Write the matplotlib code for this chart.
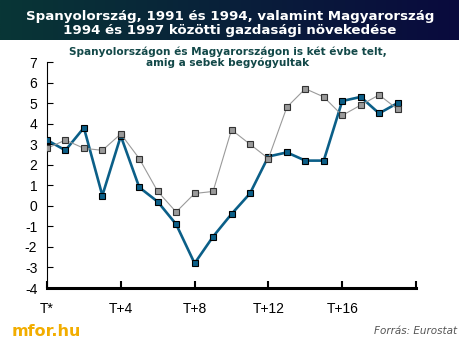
import numpy as np
import matplotlib
matplotlib.use("Agg")
import matplotlib.pyplot as plt

plt.rcParams["axes.unicode_minus"] = False

W, H = 460, 340

# quarters after T (index 0 = T*)
periods = list(range(20))
blue_vals = [3.2, 2.7, 3.8, 0.5, 3.4, 0.9, 0.2, -0.9, -2.8, -1.5,
             -0.4, 0.6, 2.4, 2.6, 2.2, 2.2, 5.1, 5.3, 4.5, 5.0]
grey_vals = [2.8, 3.2, 2.8, 2.7, 3.5, 2.3, 0.7, -0.3, 0.6, 0.7,
             3.7, 3.0, 2.3, 4.8, 5.7, 5.3, 4.4, 4.9, 5.4, 4.7]
xtick_pos = [0, 4, 8, 12, 16, 20]
xtick_labels = ["T*", "T+4", "T+8", "T+12", "T+16", ""]
yticks = list(range(-4, 8))

title = "Spanyolország, 1991 és 1994, valamint Magyarország\n1994 és 1997 közötti gazdasági növekedése"
subtitle = "Spanyolországon és Magyarországon is két évbe telt,\namig a sebek begyógyultak"

fig = plt.figure(figsize=(W / 100, H / 100), dpi=100)
fig.patch.set_facecolor("white")

# header bar with gradient
hdr = fig.add_axes([0, 1 - 40 / H, 1, 40 / H])
c1 = np.array([8, 54, 54]) / 255
c2 = np.array([10, 10, 62]) / 255
t = np.linspace(0, 1, 256)[None, :, None]
grad = c1 * (1 - t) + c2 * t
hdr.imshow(grad, aspect="auto", extent=[0, 1, 0, 1])
hdr.set_axis_off()
hdr.text(0.5, 0.42, title, color="white", fontsize=9.6, fontweight="bold",
         ha="center", va="center", linespacing=1.1, family="DejaVu Sans")

fig.text(228 / W, 1 - 57 / H, subtitle, color="#124848", fontsize=7.6,
         fontweight="bold", ha="center", va="center", linespacing=1.0,
         family="DejaVu Sans")

ax = fig.add_axes([47 / W, 1 - 288 / H, (416 - 47) / W, (288 - 62) / H])
ax.set_facecolor("none")
ax.plot(periods, blue_vals, color="#0b5f88", lw=1.9, marker="s", ms=5,
        mfc="#0b5f88", mec="black", mew=0.8, zorder=3)
ax.plot(periods, grey_vals, color="#9a9a9a", lw=0.8, marker="s", ms=5,
        mfc="#9a9a9a", mec="#333333", mew=0.8, zorder=4)

ax.set_xlim(0, 20)
ax.set_ylim(-4, 7)
ax.set_xticks(xtick_pos)
ax.set_xticklabels(xtick_labels)
ax.set_yticks(yticks)
for s in ["top", "right"]:
    ax.spines[s].set_visible(False)
ax.spines["left"].set_linewidth(0.8)
ax.spines["bottom"].set_linewidth(2.2)
ax.tick_params(axis="x", direction="in", length=5, width=1.5, pad=10)
ax.tick_params(axis="y", direction="in", length=4, width=0.8, pad=7)
for lab in ax.get_xticklabels() + ax.get_yticklabels():
    lab.set_family("Liberation Sans")
    lab.set_fontsize(10)

fig.text(12 / W, 1 - 331 / H, "mfor.hu", color="#f2ad00", fontsize=11.5,
         fontweight="bold", ha="left", va="center", family="DejaVu Sans")
fig.text(457 / W, 1 - 331 / H, "Forrás: Eurostat", color="#555555",
         fontsize=7.5, style="italic", ha="right", va="center",
         family="DejaVu Sans")

plt.savefig("out.png", dpi=100)
